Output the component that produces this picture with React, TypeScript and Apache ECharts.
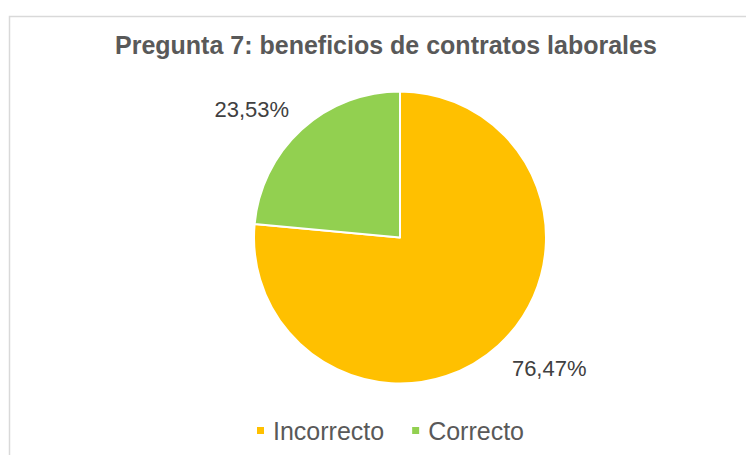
import React, { useEffect, useRef } from "react";
import * as echarts from "echarts";

const categories = ["Incorrecto", "Correcto"];
const values = [76.47, 23.53];
const colors = ["#FFC000", "#92D050"];
const titleText = "Pregunta 7: beneficios de contratos laborales";

export default function App() {
  const ref = useRef<HTMLDivElement>(null);
  useEffect(() => {
    if (!ref.current) return;
    const chart = echarts.init(ref.current, null, { renderer: "svg" });
    const fmt = (v: number) => v.toFixed(2).replace(".", ",") + "%";
    chart.setOption({
      animation: false,
      backgroundColor: "#ffffff",
      textStyle: { fontFamily: "Liberation Sans, Arial, sans-serif" },
      title: {
        text: titleText,
        left: 110,
        top: 27,
        textStyle: {
          fontFamily: "Liberation Sans, Arial, sans-serif",
          fontSize: 25,
          fontWeight: "bold",
          color: "#595959",
        },
      },
      graphic: [
        {
          type: "rect",
          left: 7,
          top: 14,
          shape: { width: 760, height: 460 },
          style: { fill: "none", stroke: "#d9d9d9", lineWidth: 1.5 },
          silent: true,
        },
      ],
      legend: {
        left: 255,
        top: 418,
        padding: 0,
        icon: "rect",
        itemWidth: 9,
        itemHeight: 9,
        itemGap: 26,
        textStyle: {
          fontFamily: "Liberation Sans, Arial, sans-serif",
          fontSize: 25,
          color: "#595959",
          padding: [0, 0, 0, 3],
        },
        data: categories,
      },
      series: [
        {
          type: "pie",
          center: [400, 237.5],
          radius: 146,
          startAngle: 90,
          clockwise: true,
          avoidLabelOverlap: false,
          itemStyle: { borderColor: "#ffffff", borderWidth: 2 },
          label: {
            show: true,
            position: "outside",
            distanceToLabelLine: 0,
            fontFamily: "Liberation Sans, Arial, sans-serif",
            fontSize: 22,
            color: "#404040",
            formatter: (p: any) => fmt(p.value),
          },
          labelLine: { show: false, length: 29, length2: 0 },
          labelLayout: (p: any) =>
            p.dataIndex === 0 ? { dx: -6, dy: 2 } : { dx: 7, dy: 1 },
          data: categories.map((c, i) => ({
            name: c,
            value: values[i],
            itemStyle: { color: colors[i] },
          })),
        },
      ],
    });
    return () => chart.dispose();
  }, []);
  return (
    <div
      ref={ref}
      style={{ position: "fixed", left: 0, top: 0, width: 746, height: 455 }}
    />
  );
}
